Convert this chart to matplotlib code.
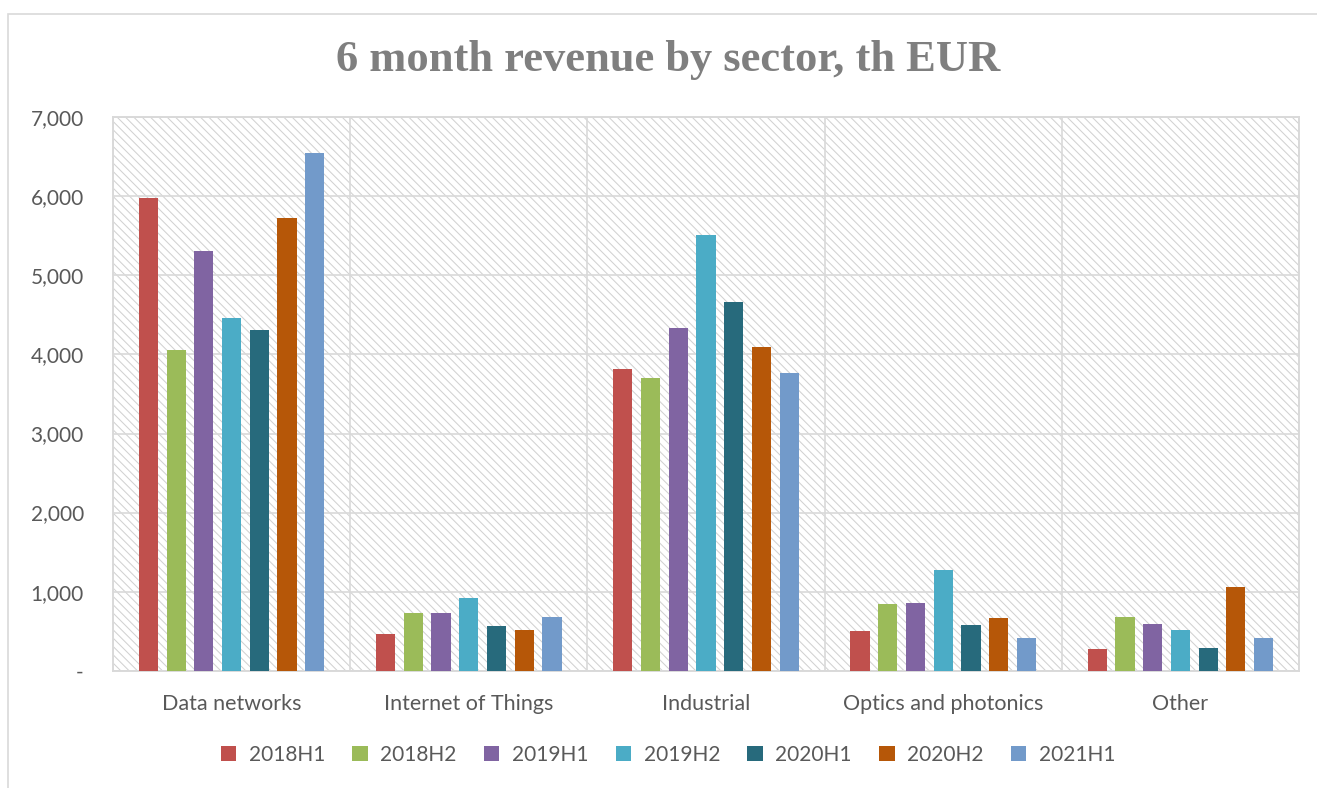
import matplotlib
matplotlib.use("Agg")
import matplotlib.pyplot as plt
import matplotlib.patches as mpatches
from matplotlib.ticker import FuncFormatter, MultipleLocator
import numpy as np

categories = ["Data networks", "Internet of Things", "Industrial", "Optics and photonics", "Other"]
series = ["2018H1", "2018H2", "2019H1", "2019H2", "2020H1", "2020H2", "2021H1"]
v_2018H1 = [5980, 470, 3810, 500, 280]
v_2018H2 = [4060, 730, 3700, 845, 680]
v_2019H1 = [5310, 730, 4340, 860, 590]
v_2019H2 = [4460, 920, 5510, 1275, 515]
v_2020H1 = [4310, 570, 4670, 580, 285]
v_2020H2 = [5730, 510, 4090, 665, 1060]
v_2021H1 = [6550, 680, 3770, 415, 410]
values = [v_2018H1, v_2018H2, v_2019H1, v_2019H2, v_2020H1, v_2020H2, v_2021H1]
colors = ["#C0504D", "#9BBB59", "#8064A2", "#4BACC6", "#276A7C", "#B65708", "#729ACA"]
title = "6 month revenue by sector, th EUR"

plt.rcParams["hatch.linewidth"] = 0.75
plt.rcParams["hatch.color"] = "#d2d2d2"

W, H = 1317, 788
fig = plt.figure(figsize=(W / 100, H / 100), dpi=100)
fig.patch.set_facecolor("white")

# outer chart border
border = mpatches.Rectangle((7.5 / W, -0.2), 1.2, 1.2 - 13.5 / H, transform=fig.transFigure,
                            fill=False, edgecolor="#d9d9d9", linewidth=1.2, clip_on=False)
fig.add_artist(border)

ax = fig.add_axes([113 / W, 1 - 670.7 / H, (1299 - 113) / W, (670.7 - 117.3) / H])
ax.set_facecolor("white")
ax.add_patch(mpatches.Rectangle((0, 0), 1, 1, transform=ax.transAxes, facecolor="white",
                                edgecolor="#d2d2d2", hatch="\\\\\\\\", linewidth=0, zorder=0))

n = len(series)
x = np.arange(len(categories))
pitch = 27.7 / 237
width = 19.2 / 237
for i, (s, vals, c) in enumerate(zip(series, values, colors)):
    ax.bar(x + (i - (n - 1) / 2) * pitch, vals, width=width, color=c, label=s, zorder=3)

ax.set_xlim(-0.5, len(categories) - 0.5)
ax.set_ylim(0, 7000)
ax.yaxis.set_major_locator(MultipleLocator(1000))
ax.yaxis.set_major_formatter(FuncFormatter(lambda v, p: "-" if v == 0 else f"{int(v):,}"))
ax.set_xticks(x)
ax.set_xticklabels(categories)
ax.set_xticks(np.arange(-0.5, len(categories)), minor=True)
ax.grid(True, which="major", axis="y", color="#d9d9d9", linewidth=1.2, zorder=1)
ax.grid(True, which="minor", axis="x", color="#d9d9d9", linewidth=1.2, zorder=1)
ax.set_axisbelow(True)
for sp in ax.spines.values():
    sp.set_color("#d9d9d9")
    sp.set_linewidth(1.4)
ax.tick_params(axis="both", which="both", length=0, colors="#595959")
ax.tick_params(axis="y", pad=21, labelsize=15)
ax.tick_params(axis="x", pad=17, labelsize=15.5)
for lab in ax.get_xticklabels() + ax.get_yticklabels():
    lab.set_fontfamily("Lato")
    lab.set_color("#595959")

fig.text(668 / W, 1 - 60 / H, title, ha="center", va="center", fontsize=32,
         fontweight="bold", family="Liberation Serif", color="#7f7f7f")

handles = [mpatches.Patch(facecolor=c, edgecolor="none") for c in colors]
leg = fig.legend(handles, series, loc="center", bbox_to_anchor=(668 / W, 1 - 755 / H), ncol=n,
                 frameon=False, handlelength=0.75, handleheight=0.75, handletextpad=0.6,
                 columnspacing=1.3, prop={"family": "Lato", "size": 15})
for t in leg.get_texts():
    t.set_color("#595959")

fig.savefig("out.png", dpi=100, facecolor="white")
